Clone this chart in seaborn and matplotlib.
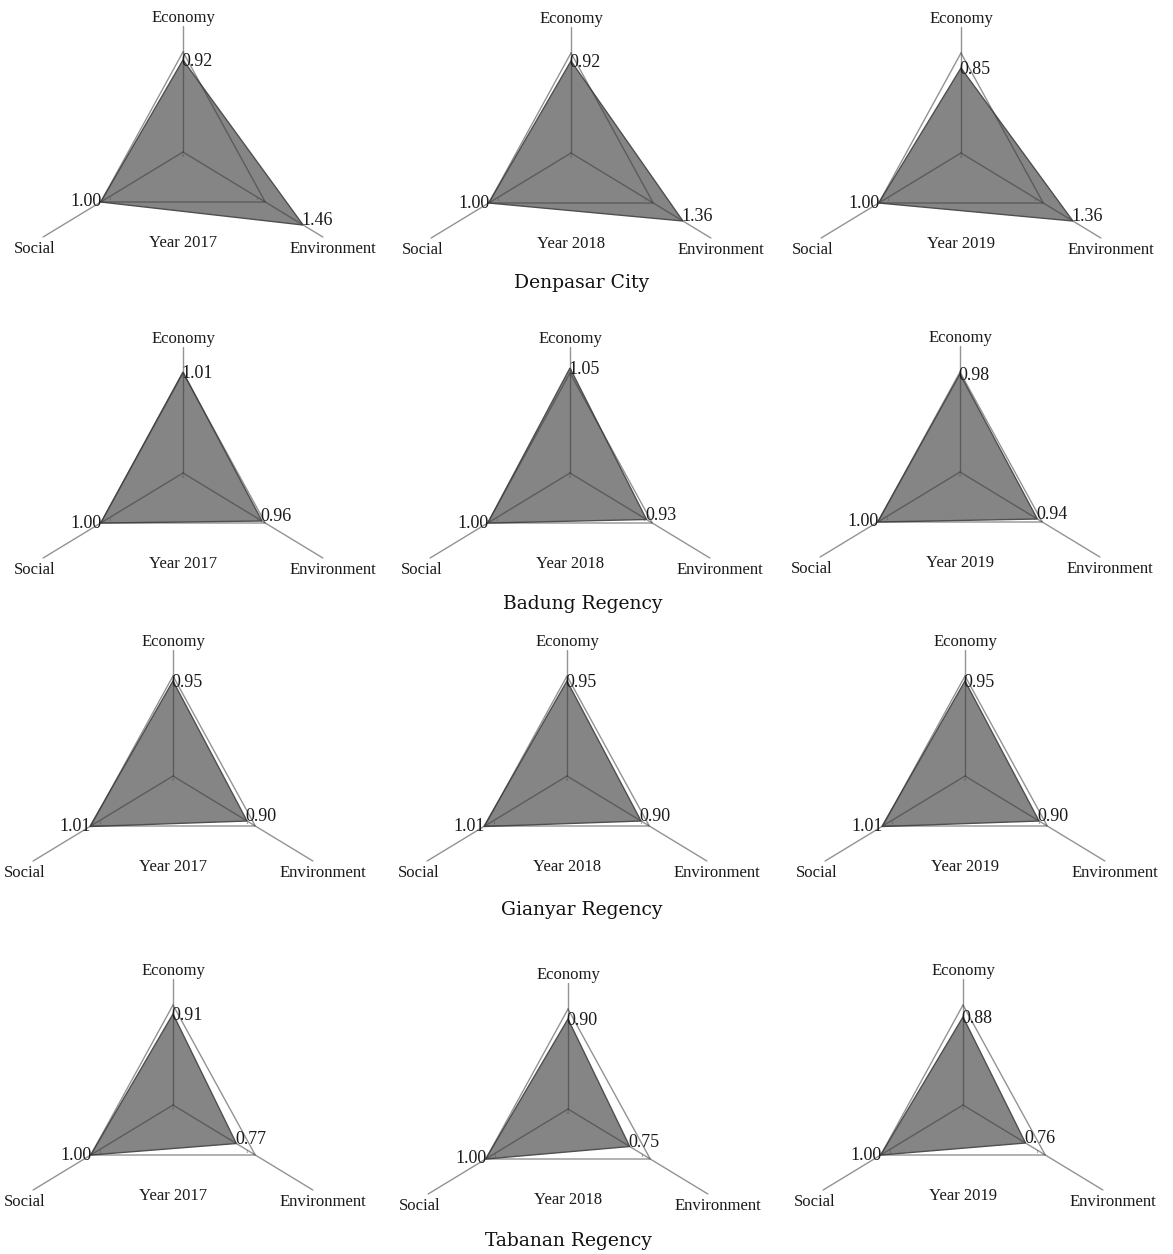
import numpy as np
import matplotlib
matplotlib.use("Agg")
import matplotlib.pyplot as plt
import seaborn as sns
import pandas as pd

# ---------------- data ----------------
regions = ["Denpasar City", "Badung Regency", "Gianyar Regency", "Tabanan Regency"]
years = ["Year 2017", "Year 2018", "Year 2019"]
dimensions = ["Economy", "Environment", "Social"]

economy = [[0.92, 0.92, 0.85],
           [1.01, 1.05, 0.98],
           [0.95, 0.95, 0.95],
           [0.91, 0.90, 0.88]]
environment = [[1.46, 1.36, 1.36],
               [0.96, 0.93, 0.94],
               [0.90, 0.90, 0.90],
               [0.77, 0.75, 0.76]]
social = [[1.00, 1.00, 1.00],
          [1.00, 1.00, 1.00],
          [1.01, 1.01, 1.01],
          [1.00, 1.00, 1.00]]
reference = [1.0, 1.0, 1.0]

# ---------------- style ----------------
sns.set_theme(style="white")
plt.rcParams["font.family"] = ["Liberation Serif", "DejaVu Serif"]

W, H = 1173, 1254
fig = plt.figure(figsize=(W / 100, H / 100), dpi=100)

angles = np.deg2rad([90, -30, 210])   # Economy, Environment, Social
spoke_len = [1.26, 1.70, 1.70]

centers = [[(183, 152), (571, 153), (961, 153)],
           [(183, 473), (570, 473), (960, 472)],
           [(173, 776), (567, 776), (965, 776)],
           [(173, 1105), (568, 1109), (963, 1105)]]
titles_pos = [(582, 283), (583, 604), (582, 910), (568, 1241)]

AX_W, AX_H = 340, 300
XS, YS = 95.0, 100.0   # pixels per data unit
FILL = "#858585"
LINE = "#3a3a3a"
TXT = "#1a1a1a"
fs = 12
fs_val = 13


def to_xy(vals):
    v = np.asarray(vals, dtype=float)
    return v * np.cos(angles), v * np.sin(angles)


for i, region in enumerate(regions):
    for j, year in enumerate(years):
        cx, cy = centers[i][j]
        ax = fig.add_axes([(cx - AX_W / 2) / W, 1 - (cy + AX_H / 2) / H, AX_W / W, AX_H / H])
        ax.set_xlim(-AX_W / 2 / XS, AX_W / 2 / XS)
        ax.set_ylim(-AX_H / 2 / YS, AX_H / 2 / YS)
        ax.axis("off")

        vals = [economy[i][j], environment[i][j], social[i][j]]
        x, y = to_xy(vals)
        rx, ry = to_xy(reference)

        # filled data triangle
        ax.fill(np.r_[x, x[0]], np.r_[y, y[0]], facecolor=FILL, edgecolor="#4f4f4f",
                linewidth=1.0, zorder=2)

        # spokes
        for k in range(3):
            ex = spoke_len[k] * np.cos(angles[k])
            ey = spoke_len[k] * np.sin(angles[k])
            sdf = pd.DataFrame({"x": [0.0, ex], "y": [0.0, ey]})
            sns.lineplot(data=sdf, x="x", y="y", sort=False, estimator=None, ax=ax,
                         color=LINE, alpha=0.55, linewidth=1.0, zorder=3)

        # reference triangle (value 1)
        rdf = pd.DataFrame({"x": np.r_[rx, rx[0]], "y": np.r_[ry, ry[0]]})
        sns.lineplot(data=rdf, x="x", y="y", sort=False, estimator=None, ax=ax,
                     color=LINE, alpha=0.55, linewidth=1.0, zorder=3)

        # tiny axis tick labels
        ax.text(0, -0.02, "0", fontsize=3.5, color="#555555", ha="center", va="top", zorder=4)
        ax.text(rx[2] + 0.08, ry[2] + 0.01, "1", fontsize=3.5, color="#555555",
                ha="left", va="bottom", zorder=4)
        ax.text(rx[1] - 0.08, ry[1] + 0.01, "1", fontsize=3.5, color="#555555",
                ha="right", va="bottom", zorder=4)

        # value labels
        ax.annotate(f"{vals[0]:.2f}", (x[0], y[0]), xytext=(-1, -1), textcoords="offset points",
                    ha="left", va="center", fontsize=fs_val, color=TXT, zorder=5)
        ax.annotate(f"{vals[1]:.2f}", (x[1], y[1]), xytext=(-1, 3), textcoords="offset points",
                    ha="left", va="center", fontsize=fs_val, color=TXT, zorder=5)
        ax.annotate(f"{vals[2]:.2f}", (x[2], y[2]), xytext=(1, 0), textcoords="offset points",
                    ha="right", va="center", fontsize=fs_val, color=TXT, zorder=5)

        # dimension labels
        ax.text(0, 1.34, "Economy", ha="center", va="center", fontsize=fs, color=TXT)
        ax.text(1.58, -0.97, "Environment", ha="center", va="center", fontsize=fs, color=TXT)
        ax.text(-1.56, -0.97, "Social", ha="center", va="center", fontsize=fs, color=TXT)
        ax.text(0, -0.91, year, ha="center", va="center", fontsize=fs, color=TXT)

    tx, ty = titles_pos[i]
    fig.text(tx / W, 1 - ty / H, region, ha="center", va="center", fontsize=13.5,
             family=["DejaVu Serif"], color="#111111")

fig.savefig("out.png", dpi=100)
